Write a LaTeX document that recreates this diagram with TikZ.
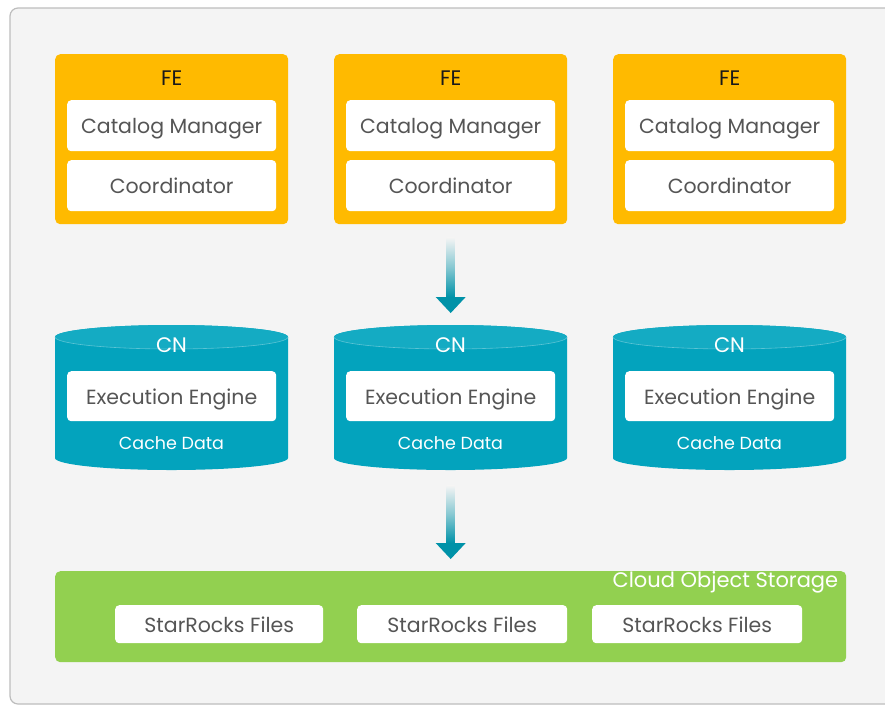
\documentclass[tikz,border=0pt]{standalone}
\usepackage{fontspec}
\setmainfont{Poppins}
\usetikzlibrary{calc}
\definecolor{panelbg}{HTML}{F4F4F4}
\definecolor{panelline}{HTML}{BDBDBD}
\definecolor{feorange}{HTML}{FFBA00}
\definecolor{cnbody}{HTML}{03A3BD}
\definecolor{cntop}{HTML}{14ABC3}
\definecolor{arrowteal}{HTML}{0092A8}
\definecolor{storegreen}{HTML}{92D050}
\definecolor{boxtext}{HTML}{555555}
\tikzset{
  febox/.style={fill=feorange, rounded corners=5pt, draw=none, inner sep=0pt},
  whitebox/.style={fill=white, rounded corners=4pt, draw=none, inner sep=0pt,
    text=boxtext, font=\fontsize{20.5}{22}\selectfont, text depth=0pt},
  title/.style={font=\fontsize{21}{23}\selectfont, inner sep=0pt},
  small/.style={font=\fontsize{17.5}{19}\selectfont, inner sep=0pt, text=white},
  area/.style={draw=none, inner sep=0pt},
}
\begin{document}
\begin{tikzpicture}[x=1pt,y=-1pt]
\useasboundingbox (0,0) rectangle (885,705);
\begin{scope}
\clip (0,0) rectangle (885,705);
\draw[panelline, fill=panelbg, line width=1.2pt, rounded corners=8pt] (10,8) rectangle (900,704);
\end{scope}
% FE boxes
\foreach \i/\x in {1/55,2/334,3/613}{
  \node[febox, anchor=north west, minimum width=233pt, minimum height=170pt] (fe\i) at (\x,54) {};
  \node[title, text=black!90] (fet\i) at ($(fe\i.north)+(0,24)$) {FE};
  \node[whitebox, anchor=north west, minimum width=209pt, minimum height=51pt] (cm\i) at (\x+12,100) {Catalog Manager};
  \node[whitebox, anchor=north west, minimum width=209pt, minimum height=51pt] (co\i) at (\x+12,160) {Coordinator};
}
% CN cylinders
\foreach \i/\x in {1/55,2/334,3/613}{
  \fill[cnbody] (\x,337) -- (\x,458) arc (180:360:116.5pt and 12pt) -- (\x+233,337) arc (0:180:116.5pt and 12pt) -- cycle;
  \fill[cntop] (\x+116.5,337) ellipse [x radius=116.5pt, y radius=12pt];
  \draw[white!30!cntop, line width=0.6pt] (\x,337) arc (180:360:116.5pt and 12pt);
  \node[area, anchor=north west, minimum width=233pt, minimum height=145pt] (cn\i) at (\x,325) {};
  \node[title, text=white] (cnt\i) at (\x+116.5,345) {CN};
  \node[whitebox, anchor=north west, minimum width=209pt, minimum height=50pt] (ee\i) at (\x+12,371) {Execution Engine};
  \node[small] (cd\i) at (\x+116.5,443) {Cache Data};
}
% storage
\node[fill=storegreen, rounded corners=5pt, anchor=north west, minimum width=791pt, minimum height=91pt, inner sep=0pt] (cos) at (55,571) {};
\node[title, text=white, anchor=north east] (cost) at ($(cos.north east)+(-8,0)$) {Cloud Object Storage};
\tikzset{srbox/.style={whitebox, anchor=north west, minimum height=38pt, text depth=-6pt}}
\node[srbox, minimum width=208pt] (sr1) at (115,605) {StarRocks Files};
\node[srbox, minimum width=210pt] (sr2) at (357,605) {StarRocks Files};
\node[srbox, minimum width=210pt] (sr3) at (592,605) {StarRocks Files};
% arrows
\coordinate (a1s) at ($(fe2.south)+(0,13)$);
\coordinate (a1e) at ($(cn2.north)+(0,-12)$);
\shade[top color=panelbg, bottom color=arrowteal, middle color=arrowteal!45!panelbg] ($(a1s)+(-4,0)$) rectangle ($(a1e)+(4,-16)$);
\fill[arrowteal] ($(a1e)+(-15,-16)$) -- ($(a1e)+(15,-16)$) -- (a1e) -- cycle;
\coordinate (a2s) at ($(cn2.south)+(0,15)$);
\coordinate (a2e) at ($(cos.north)+(0,-12)$);
\shade[top color=panelbg, bottom color=arrowteal, middle color=arrowteal!45!panelbg] ($(a2s)+(-4,0)$) rectangle ($(a2e)+(4,-16)$);
\fill[arrowteal] ($(a2e)+(-15,-16)$) -- ($(a2e)+(15,-16)$) -- (a2e) -- cycle;
\end{tikzpicture}
\end{document}
